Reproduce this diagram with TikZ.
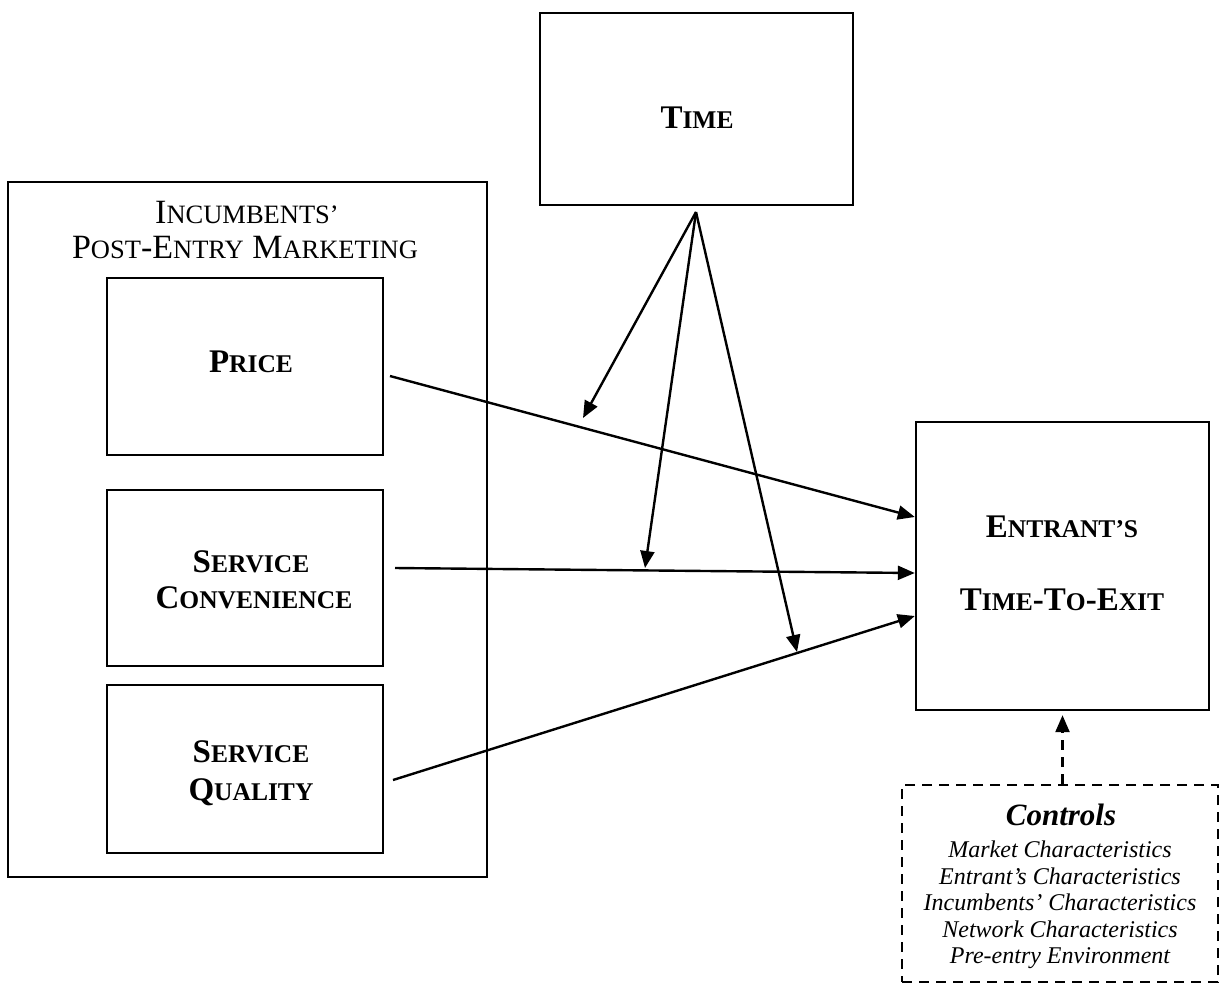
\documentclass[tikz,border=0pt]{standalone}
\usepackage{fontspec}
\setmainfont{Liberation Serif}
\usetikzlibrary{arrows.meta}
\newcommand\sk[1]{{\fontsize{25.5}{26}\selectfont #1}}
\newcommand\skt[1]{{\fontsize{26.5}{27}\selectfont #1}}
\begin{document}
\begin{tikzpicture}[x=1pt,y=-1pt,
  box/.style={draw, line width=2.4pt, inner sep=0pt},
  dbox/.style={draw, line width=2.4pt, inner sep=0pt, dash pattern=on 10pt off 7pt},
  lbl/.style={anchor=base, inner sep=0pt, font=\fontsize{33}{36}\selectfont\bfseries},
  ttl/.style={anchor=base, inner sep=0pt, font=\fontsize{34}{36}\selectfont},
  ctlh/.style={anchor=base, inner sep=0pt, font=\fontsize{31}{33}\selectfont\bfseries\itshape},
  ctl/.style={anchor=base, inner sep=0pt, font=\fontsize{24}{26}\selectfont\itshape},
  arr/.style={line width=2.4pt, -{Triangle[length=17pt,width=14pt]}}]
\useasboundingbox (0,0) rectangle (1225,994);
% boxes
\node[box, minimum width=479pt, minimum height=695pt] (outer) at (247.5,529.5) {};
\node[box, minimum width=313pt, minimum height=192pt] (time) at (696.5,109) {};
\node[box, minimum width=276pt, minimum height=177pt] (price) at (245,366.5) {};
\node[box, minimum width=276pt, minimum height=176pt] (conv) at (245,578) {};
\node[box, minimum width=276pt, minimum height=168pt] (qual) at (245,769) {};
\node[box, minimum width=293pt, minimum height=288pt] (exit) at (1062.5,566) {};
\node[dbox, minimum width=316pt, minimum height=197pt] (ctrl) at (1060,883.5) {};
% texts
\node[ttl] (t1) at (247,223) {I\skt{NCUMBENTS’}};
\node[ttl] (t2) at (245,258) {P\skt{OST}-E\skt{NTRY} M\skt{ARKETING}};
\node[lbl] (tprice) at (251,372) {P\sk{RICE}};
\node[lbl] (tconv1) at (251,572) {S\sk{ERVICE}};
\node[lbl] (tconv2) at (254,608) {C\sk{ONVENIENCE}};
\node[lbl] (tqual1) at (251,762) {S\sk{ERVICE}};
\node[lbl] (tqual2) at (251,800) {Q\sk{UALITY}};
\node[lbl] (ttime) at (697,128) {T\sk{IME}};
\node[lbl] (tex1) at (1062,537) {E\sk{NTRANT’S}};
\node[lbl] (tex2) at (1062,610) {T\sk{IME}-T\sk{O}-E\sk{XIT}};
\node[ctlh] (c0) at (1061,825) {Controls};
\node[ctl] (c1) at (1060,857) {Market Characteristics};
\node[ctl] (c2) at (1060,884) {Entrant’s Characteristics};
\node[ctl] (c3) at (1060,910) {Incumbents’ Characteristics};
\node[ctl] (c4) at (1060,937) {Network Characteristics};
\node[ctl] (c5) at (1060,963) {Pre-entry Environment};
% connector points
\coordinate (p0) at (390,376);
\coordinate (s0) at (395,568);
\coordinate (q0) at (393,780);
\coordinate (t0) at (696,212);
\coordinate (h1) at (583,418);
\coordinate (h2) at (645,568);
\coordinate (h3) at (797,652);
% connectors
\draw[arr] (p0) -- (exit.west |- 0,517);
\draw[arr] (s0) -- (exit.west |- 0,573);
\draw[arr] (q0) -- (exit.west |- 0,616);
\draw[arr] (t0) -- (h1);
\draw[arr] (t0) -- (h2);
\draw[arr] (t0) -- (h3);
\draw[arr, dash pattern=on 10pt off 7pt] (ctrl.north -| exit.south) -- ([yshift=-4pt]exit.south);
\end{tikzpicture}
\end{document}
